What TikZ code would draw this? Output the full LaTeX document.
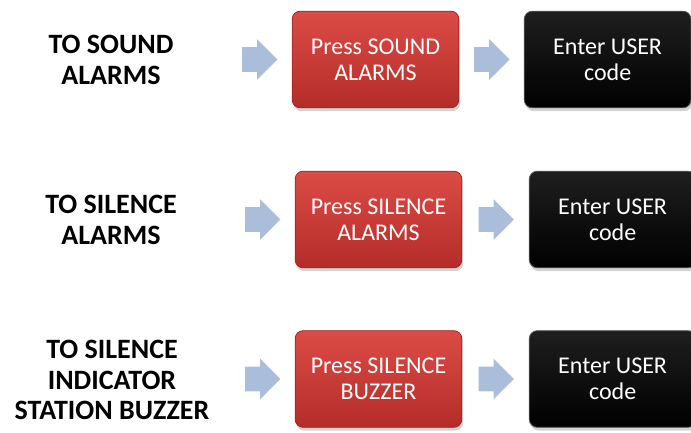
\documentclass[tikz,border=0pt]{standalone}
\usepackage{fontspec}
\setmainfont{Carlito}
\usetikzlibrary{positioning,shapes.arrows,shadows}

\definecolor{arrowblue}{RGB}{170,189,219}
\definecolor{redtop}{RGB}{220,76,70}
\definecolor{redbot}{RGB}{180,44,40}
\definecolor{redline}{RGB}{160,36,34}

\tikzset{
  caption/.style={font=\bfseries\fontsize{21}{23}\selectfont, align=center},
  pressbox/.style={rounded corners=6pt, minimum width=125pt, minimum height=72.5pt,
    top color=redtop, bottom color=redbot, draw=redline, line width=0.6pt,
    drop shadow={opacity=0.35, shadow xshift=1pt, shadow yshift=-2.5pt},
    text=white, align=center, font=\fontsize{18}{19.5}\selectfont},
  codebox/.style={pressbox, top color=black!88, bottom color=black, draw=black!65},
  blockarrow/.style={single arrow, fill=arrowblue, inner xsep=0pt, inner ysep=9pt,
    minimum height=26.5pt, single arrow head extend=6pt, single arrow head indent=0pt}
}

\begin{document}
\begin{tikzpicture}[x=0.75pt, y=-0.75pt]
\useasboundingbox (0,0) rectangle (691,432);

% row 1
\node[caption] (t1) at (111,60) {TO SOUND\\ALARMS};
\node[pressbox] (p1) at (375.5,59.5) {Press SOUND\\ALARMS};
\node[blockarrow] (a1) [left=10.5pt of p1] {};
\node[blockarrow] (b1) [right=11pt of p1] {};
\node[codebox] (c1) [right=10.5pt of b1] {Enter USER\\code};

% row 2
\node[caption] (t2) at (111,220) {TO SILENCE\\ALARMS};
\node[pressbox] (p2) at (378.5,219.5) {Press SILENCE\\ALARMS};
\node[blockarrow] (a2) [left=10.5pt of p2] {};
\node[blockarrow] (b2) [right=12pt of p2] {};
\node[codebox] (c2) [right=11pt of b2] {Enter USER\\code};

% row 3
\node[caption] (t3) at (112,380) {TO SILENCE\\INDICATOR\\STATION BUZZER};
\node[pressbox] (p3) at (378.5,379) {Press SILENCE\\BUZZER};
\node[blockarrow] (a3) [left=10.5pt of p3] {};
\node[blockarrow] (b3) [right=12pt of p3] {};
\node[codebox] (c3) [right=11pt of b3] {Enter USER\\code};

\end{tikzpicture}
\end{document}
